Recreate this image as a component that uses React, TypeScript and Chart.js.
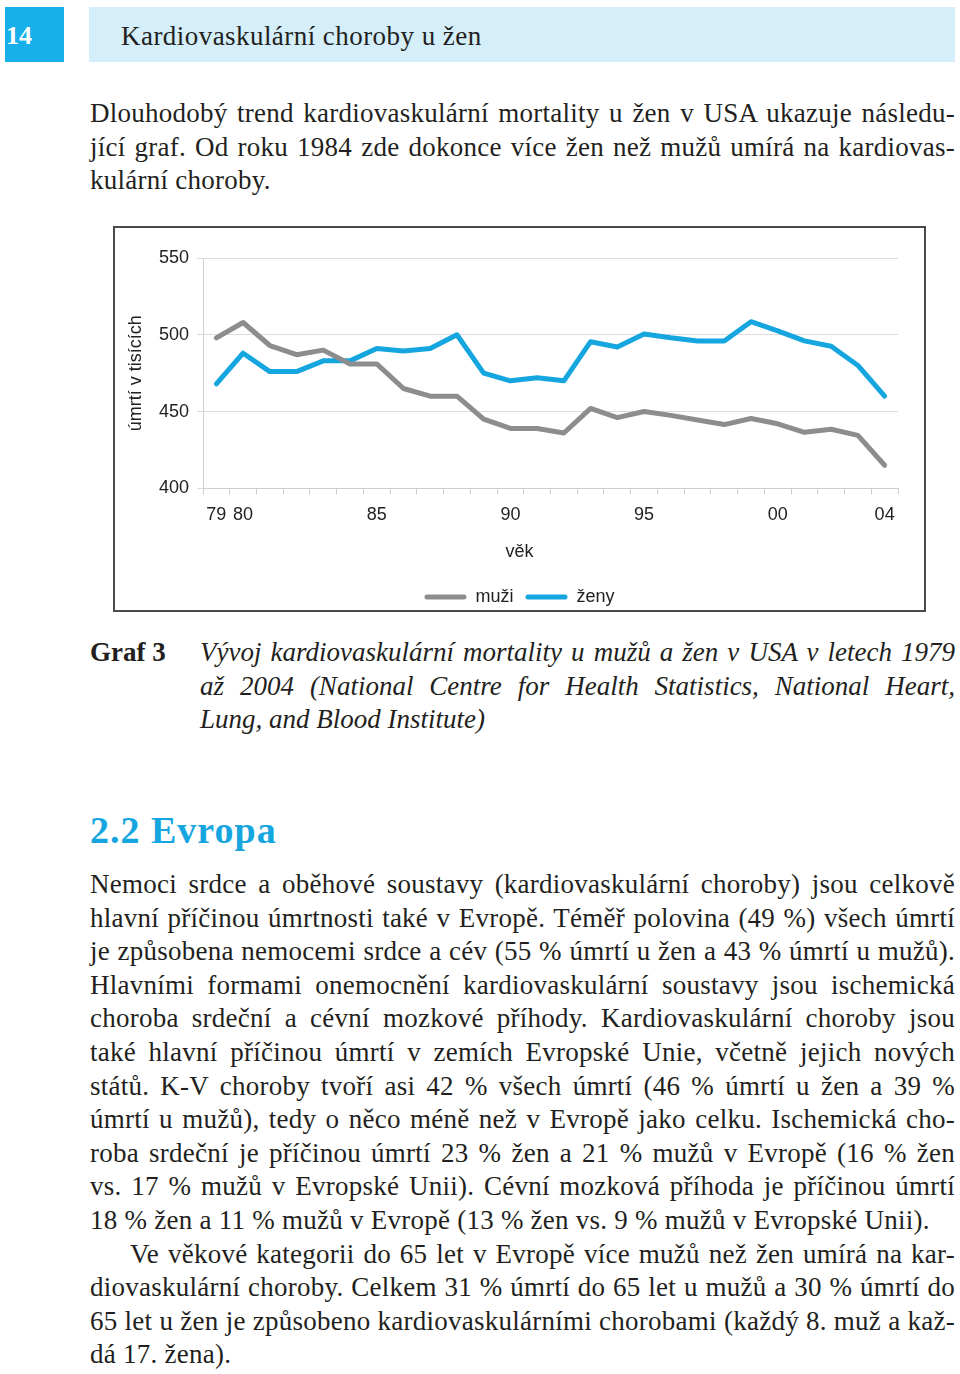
import React, { useEffect, useRef } from "react";
import { Chart, registerables } from "chart.js";

Chart.register(...registerables);

// ---- chart data ----
const years = [
  "1979", "1980", "1981", "1982", "1983", "1984", "1985", "1986", "1987", "1988",
  "1989", "1990", "1991", "1992", "1993", "1994", "1995", "1996", "1997", "1998",
  "1999", "2000", "2001", "2002", "2003", "2004",
];
const tickLabels = [
  "79", "80", "", "", "", "", "85", "", "", "", "", "90", "", "", "", "", "95", "", "", "", "",
  "00", "", "", "", "04",
];
const men = [
  498, 508, 493, 487, 490, 481, 481, 465, 460, 460, 445, 439, 439, 436, 452, 446, 450, 447.5,
  444.5, 441.5, 445.5, 442, 436.5, 438.5, 434.5, 415,
];
const women = [
  468, 488, 476, 476, 483, 483, 491, 489.5, 491, 500, 475, 470, 472, 470, 495.5, 492, 500.5, 498,
  496, 496, 508.5, 502.5, 496, 492.5, 480, 460,
];
const seriesNames = ["muži", "ženy"];
const yTitle = "úmrtí v tisících";
const xTitle = "věk";

// ---- page text ----
const headerNumber = "14";
const headerTitle = "Kardiovaskulární choroby u žen";
const introLines = [
  "Dlouhodobý trend kardiovaskulární mortality u žen v USA ukazuje následu-",
  "jící graf. Od roku 1984 zde dokonce více žen než mužů umírá na kardiovas-",
  "kulární choroby.",
];
const captionLabel = "Graf 3";
const captionLines = [
  "Vývoj kardiovaskulární mortality u mužů a žen v USA v letech 1979",
  "až 2004 (National Centre for Health Statistics, National Heart,",
  "Lung, and Blood Institute)",
];
const sectionTitle = "2.2 Evropa";
const bodyLines = [
  "Nemoci srdce a oběhové soustavy (kardiovaskulární choroby) jsou celkově",
  "hlavní příčinou úmrtnosti také v Evropě. Téměř polovina (49 %) všech úmrtí",
  "je způsobena nemocemi srdce a cév (55 % úmrtí u žen a 43 % úmrtí u mužů).",
  "Hlavními formami onemocnění kardiovaskulární soustavy jsou ischemická",
  "choroba srdeční a cévní mozkové příhody. Kardiovaskulární choroby jsou",
  "také hlavní příčinou úmrtí v zemích Evropské Unie, včetně jejich nových",
  "států. K-V choroby tvoří asi 42 % všech úmrtí (46 % úmrtí u žen a 39 %",
  "úmrtí u mužů), tedy o něco méně než v Evropě jako celku. Ischemická cho-",
  "roba srdeční je příčinou úmrtí 23 % žen a 21 % mužů v Evropě (16 % žen",
  "vs. 17 % mužů v Evropské Unii). Cévní mozková příhoda je příčinou úmrtí",
  "18 % žen a 11 % mužů v Evropě (13 % žen vs. 9 % mužů v Evropské Unii).",
  "Ve věkové kategorii do 65 let v Evropě více mužů než žen umírá na kar-",
  "diovaskulární choroby. Celkem 31 % úmrtí do 65 let u mužů a 30 % úmrtí do",
  "65 let u žen je způsobeno kardiovaskulárními chorobami (každý 8. muž a kaž-",
  "dá 17. žena).",
];
const bodyLastLines = [10, 14];
const bodyIndentLines = [11];

const SERIF = "'Liberation Serif', 'DejaVu Serif', serif";
const SANS = "'Liberation Sans', Arial, sans-serif";
const TEXT = "#231f20";
const BLUE = "#16a6df";
const GRAY = "#8d8d90";
const FS = 27;
const LS = "0.25px";

function TextLine(props: {
  text: string;
  center: number;
  left?: number;
  right?: number;
  justify?: boolean;
  style?: React.CSSProperties;
}) {
  const { text, center, left = 90, right = 955, justify = true, style } = props;
  return (
    <div
      style={{
        position: "absolute",
        left,
        top: center - 17,
        width: right - left,
        height: 34,
        lineHeight: "34px",
        fontSize: FS,
        letterSpacing: LS,
        fontFamily: SERIF,
        color: TEXT,
        textAlign: justify ? "justify" : "left",
        textAlignLast: justify ? "justify" : "left",
        whiteSpace: "nowrap",
        ...style,
      }}
    >
      {text}
    </div>
  );
}

function ChartBox() {
  const ref = useRef<HTMLCanvasElement | null>(null);
  useEffect(() => {
    if (!ref.current) return;
    const legendGen = (Chart.defaults.plugins.legend.labels as any).generateLabels;
    const chart = new Chart(ref.current, {
      type: "line",
      data: {
        labels: years,
        datasets: [
          {
            label: seriesNames[0],
            data: men,
            borderColor: GRAY,
            backgroundColor: GRAY,
            borderWidth: 5,
            pointRadius: 0,
            tension: 0,
            borderJoinStyle: "round",
            borderCapStyle: "round",
          },
          {
            label: seriesNames[1],
            data: women,
            borderColor: BLUE,
            backgroundColor: BLUE,
            borderWidth: 5,
            pointRadius: 0,
            tension: 0,
            borderJoinStyle: "round",
            borderCapStyle: "round",
          },
        ],
      },
      options: {
        responsive: false,
        animation: false,
        layout: { padding: { top: 30, right: 0, left: 0, bottom: -6 } },
        scales: {
          x: {
            type: "category",
            offset: true,
            grid: {
              offset: true,
              drawOnChartArea: false,
              drawTicks: true,
              tickLength: 6,
              color: "#cfcfcf",
            },
            border: { display: true, color: "#cfcfcf" },
            ticks: {
              autoSkip: false,
              maxRotation: 0,
              padding: 10,
              color: "#222",
              font: { family: SANS, size: 18 },
              callback: (_v: any, i: number) => tickLabels[i],
            },
          },
          y: {
            min: 400,
            max: 550,
            ticks: {
              stepSize: 50,
              padding: 8,
              color: "#222",
              font: { family: SANS, size: 18 },
            },
            grid: { color: "#dcdcdc", tickLength: 6 },
            border: { display: true, color: "#d0d0d0" },
            title: {
              display: true,
              text: yTitle,
              color: "#222",
              font: { family: SANS, size: 18 },
              padding: { top: 10, bottom: 0 },
            },
            afterFit: (scale: any) => {
              scale.width = 88;
            },
          },
          yPad: {
            type: "linear",
            position: "right",
            display: true,
            ticks: { display: false },
            grid: { display: false, drawTicks: false },
            border: { display: false },
            afterFit: (scale: any) => {
              scale.width = 26;
            },
          },
        },
        plugins: {
          title: {
            display: true,
            text: xTitle,
            position: "bottom",
            weight: 500,
            color: "#222",
            font: { family: SANS, size: 18, weight: "normal" },
            padding: { top: 5.5, bottom: 13 },
          } as any,
          legend: {
            display: true,
            position: "bottom",
            labels: {
              boxWidth: 42,
              boxHeight: 5,
              padding: 12,
              color: "#222",
              font: { family: SANS, size: 18 },
              useBorderRadius: true,
              borderRadius: 2.5,
              generateLabels: (c: any) =>
                legendGen(c).map((l: any) => ({ ...l, lineWidth: 0, fillStyle: l.strokeStyle })),
            } as any,
          },
          tooltip: { enabled: false },
        },
      } as any,
    });
    return () => chart.destroy();
  }, []);
  return (
    <div
      style={{
        position: "absolute",
        left: 113,
        top: 226,
        width: 813,
        height: 386,
        border: "2px solid #4a4a4a",
        boxSizing: "border-box",
        background: "#fff",
      }}
    >
      <canvas ref={ref} width={809} height={382} style={{ display: "block" }} />
    </div>
  );
}

export default function App() {
  const bodyCenters = bodyLines.map((_, i) => 884 + i * 33.6);
  return (
    <div
      style={{
        position: "absolute",
        left: 0,
        top: 0,
        width: 960,
        height: 1374,
        background: "#fff",
        overflow: "hidden",
      }}
    >
      {/* header */}
      <div
        style={{
          position: "absolute",
          left: 5,
          top: 7,
          width: 59,
          height: 55,
          background: "#18b0ea",
          color: "#fff",
          fontFamily: SERIF,
          fontWeight: "bold",
          fontSize: 26,
          lineHeight: "57px",
          paddingLeft: 1,
          boxSizing: "border-box",
        }}
      >
        {headerNumber}
      </div>
      <div
        style={{
          position: "absolute",
          left: 89,
          top: 7,
          width: 866,
          height: 55,
          background: "#d4eefa",
        }}
      />
      <div
        style={{
          position: "absolute",
          left: 121,
          top: 19,
          fontFamily: SERIF,
          fontSize: FS,
          letterSpacing: "0.45px",
          lineHeight: "34px",
          color: TEXT,
          whiteSpace: "nowrap",
        }}
      >
        {headerTitle}
      </div>

      {introLines.map((t, i) => (
        <TextLine key={"i" + i} text={t} center={113 + i * 33.6} justify={i < introLines.length - 1} />
      ))}

      <ChartBox />

      <TextLine
        text={captionLabel}
        center={652}
        justify={false}
        style={{ fontWeight: "bold", width: 100, letterSpacing: "0px" }}
      />
      {captionLines.map((t, i) => (
        <TextLine
          key={"c" + i}
          text={t}
          center={652 + i * 33.6}
          left={200}
          justify={i < captionLines.length - 1}
          style={{ fontStyle: "italic", letterSpacing: "0px" }}
        />
      ))}

      <div
        style={{
          position: "absolute",
          left: 90,
          top: 808,
          fontFamily: SERIF,
          fontWeight: "bold",
          fontSize: 38,
          letterSpacing: "1px",
          lineHeight: "44px",
          color: BLUE,
          whiteSpace: "nowrap",
        }}
      >
        {sectionTitle}
      </div>

      {bodyLines.map((t, i) => (
        <TextLine
          key={"b" + i}
          text={t}
          center={bodyCenters[i]}
          left={bodyIndentLines.includes(i) ? 130 : 90}
          justify={!bodyLastLines.includes(i)}
        />
      ))}
    </div>
  );
}
